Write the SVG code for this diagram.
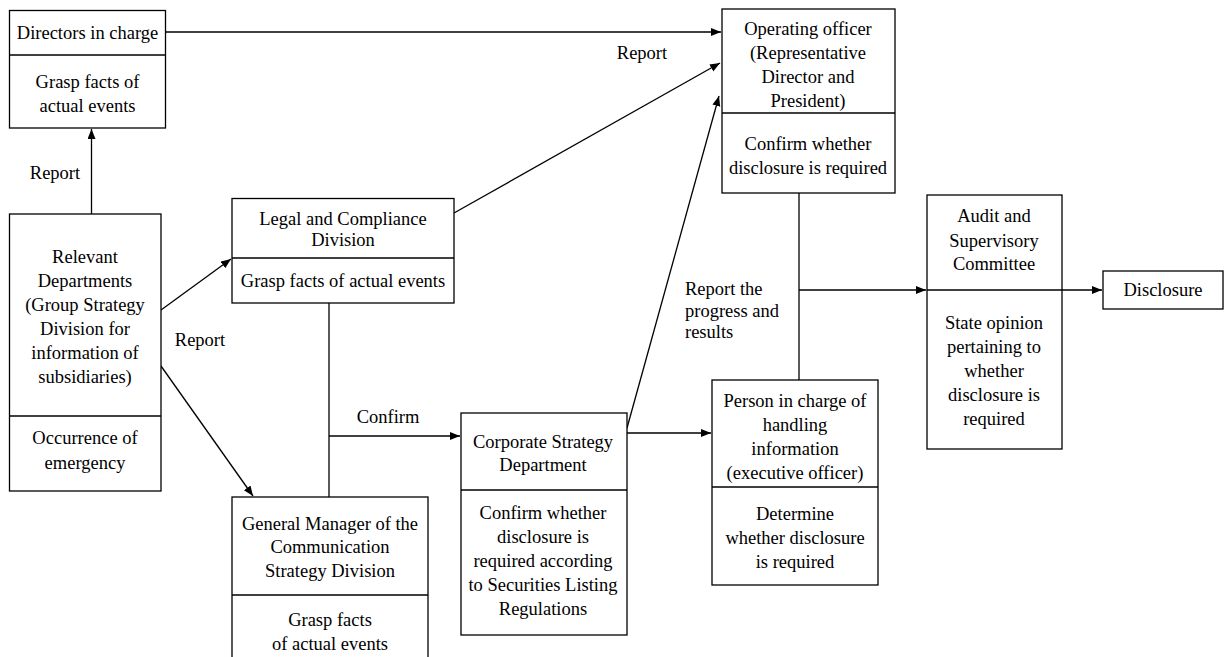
<svg xmlns="http://www.w3.org/2000/svg" width="1226" height="657" viewBox="0 0 1226 657">
<defs>
<marker id="ah" markerWidth="11" markerHeight="9" refX="10" refY="4" orient="auto" markerUnits="userSpaceOnUse">
<path d="M0,0 L10,4 L0,8 z" fill="#000"/>
</marker>
<style>
.b{fill:#fff;stroke:#000;stroke-width:1.3}
.d{stroke:#000;stroke-width:1.3;fill:none}
text{font-family:"Liberation Serif","Times New Roman",serif;font-size:18.5px;fill:#000}
.t{text-anchor:middle}
.c{stroke:#000;stroke-width:1.3;fill:none}
.a{stroke:#000;stroke-width:1.3;fill:none;marker-end:url(#ah)}
</style>
</defs>
<rect width="1226" height="657" fill="#fff"/>
<g id="connectors">
<line class="a" x1="165.5" y1="32" x2="721" y2="32"/>
<line class="a" x1="91.5" y1="214" x2="91.5" y2="129"/>
<line class="a" x1="161" y1="310" x2="231" y2="259"/>
<line class="a" x1="161" y1="366" x2="253" y2="496"/>
<line class="c" x1="329" y1="303" x2="329" y2="497"/>
<line class="a" x1="329" y1="436" x2="460" y2="436"/>
<line class="a" x1="454" y1="213" x2="720" y2="63"/>
<line class="a" x1="627" y1="428" x2="719" y2="96"/>
<line class="a" x1="627" y1="433" x2="711" y2="433"/>
<line class="c" x1="799" y1="193" x2="799" y2="380"/>
<line class="a" x1="799" y1="290" x2="926" y2="290"/>
<line class="a" x1="1062" y1="290" x2="1102" y2="290"/>
<text class="t" x="55" y="179">Report</text>
<text class="t" x="200" y="346">Report</text>
<text class="t" x="388" y="423">Confirm</text>
<text class="t" x="642" y="59">Report</text>
<text x="685" y="295">Report the</text>
<text x="685" y="316.5">progress and</text>
<text x="685" y="338">results</text>
</g>
<g id="directors">
<rect class="b" x="9.5" y="10.5" width="156" height="117.5"/>
<line class="d" x1="9.5" y1="55" x2="165.5" y2="55"/>
<text class="t" x="87.5" y="39">Directors in charge</text>
<text class="t" x="87.5" y="88">Grasp facts of</text>
<text class="t" x="87.5" y="112">actual events</text>
</g>
<g id="relevant">
<rect class="b" x="9.5" y="214" width="151.5" height="277"/>
<line class="d" x1="9.5" y1="416" x2="161" y2="416"/>
<text class="t" x="85" y="263">Relevant</text>
<text class="t" x="85" y="287">Departments</text>
<text class="t" x="85" y="311">(Group Strategy</text>
<text class="t" x="85" y="335">Division for</text>
<text class="t" x="85" y="359">information of</text>
<text class="t" x="85" y="383">subsidiaries)</text>
<text class="t" x="85" y="444">Occurrence of</text>
<text class="t" x="85" y="469">emergency</text>
</g>
<g id="legal">
<rect class="b" x="232" y="198.5" width="222" height="104.5"/>
<line class="d" x1="232" y1="258" x2="454" y2="258"/>
<text class="t" x="343" y="225">Legal and Compliance</text>
<text class="t" x="343" y="246">Division</text>
<text class="t" x="343" y="287">Grasp facts of actual events</text>
</g>
<g id="general-manager">
<rect class="b" x="232" y="497" width="196" height="175"/>
<line class="d" x1="232" y1="595" x2="428" y2="595"/>
<text class="t" x="330" y="530">General Manager of the</text>
<text class="t" x="330" y="553">Communication</text>
<text class="t" x="330" y="577">Strategy Division</text>
<text class="t" x="330" y="626">Grasp facts</text>
<text class="t" x="330" y="650">of actual events</text>
</g>
<g id="corporate">
<rect class="b" x="461" y="413" width="166" height="222"/>
<line class="d" x1="461" y1="490" x2="627" y2="490"/>
<text class="t" x="543" y="448">Corporate Strategy</text>
<text class="t" x="543" y="471">Department</text>
<text class="t" x="543" y="519">Confirm whether</text>
<text class="t" x="543" y="543">disclosure is</text>
<text class="t" x="543" y="567">required according</text>
<text class="t" x="543" y="591">to Securities Listing</text>
<text class="t" x="543" y="615">Regulations</text>
</g>
<g id="operating">
<rect class="b" x="722" y="9" width="173" height="184"/>
<line class="d" x1="722" y1="113" x2="895" y2="113"/>
<text class="t" x="808" y="35">Operating officer</text>
<text class="t" x="808" y="59">(Representative</text>
<text class="t" x="808" y="83">Director and</text>
<text class="t" x="808" y="107">President)</text>
<text class="t" x="808" y="150">Confirm whether</text>
<text class="t" x="808" y="174">disclosure is required</text>
</g>
<g id="person">
<rect class="b" x="712" y="380" width="166" height="205"/>
<line class="d" x1="712" y1="487" x2="878" y2="487"/>
<text class="t" x="795" y="407">Person in charge of</text>
<text class="t" x="795" y="431">handling</text>
<text class="t" x="795" y="455">information</text>
<text class="t" x="795" y="479">(executive officer)</text>
<text class="t" x="795" y="520">Determine</text>
<text class="t" x="795" y="544">whether disclosure</text>
<text class="t" x="795" y="568">is required</text>
</g>
<g id="audit">
<rect class="b" x="927" y="195" width="135" height="254"/>
<line class="d" x1="927" y1="290" x2="1062" y2="290"/>
<text class="t" x="994" y="222">Audit and</text>
<text class="t" x="994" y="246.5">Supervisory</text>
<text class="t" x="994" y="270">Committee</text>
<text class="t" x="994" y="329">State opinion</text>
<text class="t" x="994" y="353">pertaining to</text>
<text class="t" x="994" y="377">whether</text>
<text class="t" x="994" y="401">disclosure is</text>
<text class="t" x="994" y="425">required</text>
</g>
<g id="disclosure">
<rect class="b" x="1103" y="271" width="120" height="38"/>
<text class="t" x="1163" y="296">Disclosure</text>
</g>
</svg>
